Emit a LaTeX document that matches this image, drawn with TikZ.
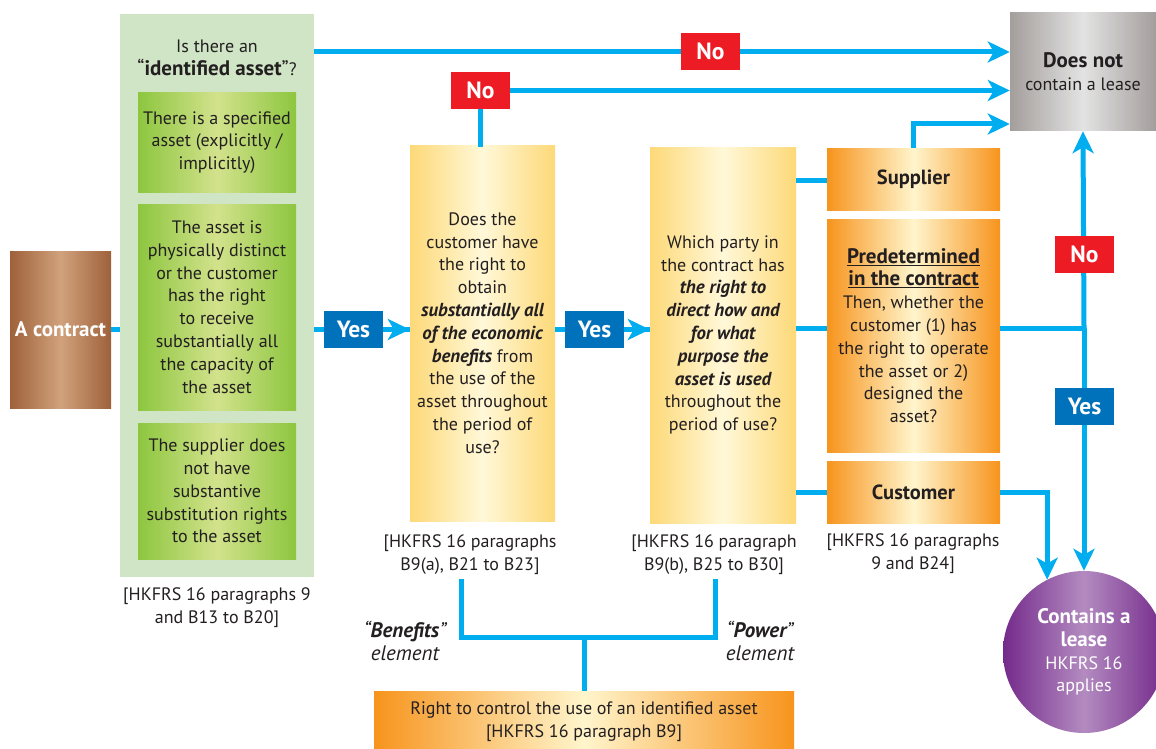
\documentclass[tikz,border=0pt]{standalone}
\usepackage{fontspec}
\setmainfont{PT Sans}
\usetikzlibrary{arrows.meta}

\definecolor{ink}{HTML}{231F20}
\definecolor{flowblue}{HTML}{00AEEF}
\definecolor{yesblue}{HTML}{0072BC}
\definecolor{nored}{HTML}{ED1C24}
\definecolor{panelgreen}{HTML}{CFE5C5}
\definecolor{greenedge}{HTML}{8DC63F}
\definecolor{greenmid}{HTML}{D2E28C}
\definecolor{yellowedge}{HTML}{FDD978}
\definecolor{yellowmid}{HTML}{FFF8D8}
\definecolor{orangeedge}{HTML}{F7941D}
\definecolor{orangemid}{HTML}{FFF5CC}
\definecolor{brownedge}{HTML}{9E613A}
\definecolor{brownmid}{HTML}{D0A27C}
\definecolor{greyedge}{HTML}{A39E9C}
\definecolor{greymid}{HTML}{E3E3E3}
\definecolor{purpleedge}{HTML}{742A8B}
\definecolor{purplemid}{HTML}{B38BC0}

\newcommand{\bodyfont}{\fontsize{18}{22.8}\selectfont}
\newcommand{\tagfont}{\fontsize{23.5}{26}\selectfont\bfseries}
\newcommand{\keyterm}[1]{{\fontsize{18.8}{22.8}\selectfont\bfseries\itshape #1}}
\newcommand{\bigbold}[1]{{\fontsize{21}{22.8}\selectfont\bfseries #1}}
\newcommand{\bigplain}[1]{{\fontsize{21}{22.8}\selectfont #1}}

\begin{document}
\begin{tikzpicture}[x=1pt,y=-1pt,
  txt/.style={font=\bodyfont, text=ink, align=center, inner sep=0pt},
  plain/.style={rectangle, inner sep=0pt, align=center, text=ink, font=\bodyfont},
  greenbox/.style={plain, left color=greenedge, right color=greenedge, middle color=greenmid,
                   minimum width=158pt},
  yellowbox/.style={plain, left color=yellowedge, right color=yellowedge, middle color=yellowmid,
                    minimum width=145pt, minimum height=376pt},
  orangebox/.style={plain, left color=orangeedge, right color=orangeedge, middle color=orangemid,
                    minimum width=173pt},
  partybox/.style={orangebox, minimum height=62pt, font=\fontsize{20.5}{24}\selectfont\bfseries},
  yestag/.style={rectangle, fill=yesblue, text=white, font=\tagfont, inner sep=0pt,
                 minimum width=59pt, minimum height=37pt},
  notag/.style={yestag, fill=nored},
  element/.style={txt, font=\fontsize{21}{23}\selectfont\itshape},
  flow/.style={draw=flowblue, line width=5pt},
  arr/.style={flow, -{Stealth[length=22pt,width=21pt,inset=6pt]}}
]
\useasboundingbox (0,0) rectangle (1156,749);
\clip (0,0) rectangle (1156,749);

% ---- boxes ----
\node[plain, left color=brownedge, right color=brownedge, middle color=brownmid,
      minimum width=101pt, minimum height=157pt, text=white,
      font=\fontsize{21}{24}\selectfont\bfseries] (contract) at (60.5,329.5) {A contract};

\node[rectangle, fill=panelgreen, minimum width=194pt, minimum height=563pt] (panel) at (217,295.5) {};
\node[txt] (ptitle) at (217,58) {Is there an\\\bigplain{“}\bigbold{identified asset}\bigplain{”}?};
\node[greenbox, minimum height=99pt] (g1) at (217,142.5)
  {There is a specified\\asset (explicitly /\\implicitly)};
\node[greenbox, minimum height=206pt] (g2) at (217,307)
  {The asset is\\physically distinct\\or the customer\\has the right\\to receive\\substantially all\\the capacity of\\the asset};
\node[greenbox, minimum height=136pt] (g3) at (217,491)
  {The supplier does\\not have\\substantive\\substitution rights\\to the asset};
\node[txt] (ref1) at (217,608) {[HKFRS 16 paragraphs 9\\and B13 to B20]};

\node[yellowbox] (q1) at (482.5,333)
  {Does the\\customer have\\the right to\\obtain\\\keyterm{substantially all}\\\keyterm{of the economic}\\\keyterm{benefits} from\\the use of the\\asset throughout\\the period of\\use?};
\node[txt] (ref2) at (470,555) {[HKFRS 16 paragraphs\\B9(a), B21 to B23]};

\node[yellowbox, minimum width=146pt] (q2) at (723,335)
  {Which party in\\the contract has\\\keyterm{the right to}\\\keyterm{direct how and}\\\keyterm{for what}\\\keyterm{purpose the}\\\keyterm{asset is used}\\throughout the\\period of use?};
\node[txt] (ref3) at (714,555) {[HKFRS 16 paragraph\\B9(b), B25 to B30]};

\node[partybox] (supplier) at (913.5,179) {Supplier};
\node[orangebox, minimum height=233pt] (pred) at (913.5,335.5)
  {\bigbold{\underline{Predetermined}}\\\bigbold{\underline{in the contract}}\\Then, whether the\\customer (1) has\\the right to operate\\the asset or 2)\\designed the\\asset?};
\node[partybox] (customer) at (913.5,492) {Customer};
\node[txt] (ref4) at (913,554) {[HKFRS 16 paragraphs\\9 and B24]};

\node[plain, left color=greyedge, right color=greyedge, middle color=greymid,
      minimum width=146pt, minimum height=118pt] (dnc) at (1083,72)
  {\bigbold{Does not}\\contain a lease};

\node[circle, inner sep=0pt, minimum size=162pt, left color=purpleedge, right color=purpleedge,
      middle color=purplemid, text=white, align=center, font=\bodyfont] (lease) at (1084,652)
  {\bigbold{Contains a}\\\bigbold{lease}\\HKFRS 16\\applies};

\node[plain, left color=orangeedge, right color=orangeedge, middle color=orangemid,
      minimum width=420pt, minimum height=62pt] (control) at (584,722) {};
\node[txt] (controltext) at (584,722) {Right to control the use of an identified asset\\{[}HKFRS 16 paragraph B9{]}};

\node[element] (benefits) at (405,641) {“\textbf{Benefits}”\\element};
\node[element] (power) at (760,641) {“\textbf{Power}”\\element};

% ---- connector anchor points ----
\coordinate (row) at (0,329.5);
\coordinate (split) at (1084,328);
\coordinate (benefitstop) at (461,579);
\coordinate (powertop) at (715,579);
\coordinate (joinrow) at (0,637);

% ---- connectors ----
\draw[flow] (contract.east) -- (contract.east -| panel.west);
\draw[flow] (panel.east |- row) -- (row -| q1.west);
\draw[arr] (panel.east |- 0,52) -- (dnc.west |- 0,52);
\draw[arr] (480.5,90.5) -- (dnc.west |- 0,90.5);
\draw[flow] (480.5,90.5) -- (480.5,147);
\draw[flow] (q1.east |- row) -- (row -| q2.west);
\draw[flow] (q2.east |- 0,180) -- (supplier.west |- 0,180);
\draw[flow] (q2.east |- split) -- (pred.west |- split);
\draw[flow] (q2.east |- customer) -- (customer.west);
\draw[arr] (supplier.north) |- (dnc.west |- 0,124);
\draw[flow] (pred.east |- split) -- (split);
\draw[arr] (split) -- (dnc.south);
\draw[arr] (split) -- (lease.north);
\draw[arr] (customer.east) -| (lease.117);
\draw[flow] (benefitstop) |- (joinrow -| powertop) -- (powertop);
\draw[flow] (joinrow -| control.north) -- (control.north);

% ---- Yes / No tags ----
\node[yestag] (yes1) at (353.5,329.5) {Yes};
\node[yestag] (yes2) at (594.5,329.5) {Yes};
\draw[arr] (yes1.east) -- (q1.west |- yes1);
\draw[arr] (yes2.east) -- (q2.west |- yes2);
\node[notag] (no1) at (710.5,51.5) {No};
\node[notag] (no2) at (480.5,90.5) {No};
\node[notag] (no3) at (1084.5,254.5) {No};
\node[yestag] (yes3) at (1084.5,406.5) {Yes};
\end{tikzpicture}
\end{document}
